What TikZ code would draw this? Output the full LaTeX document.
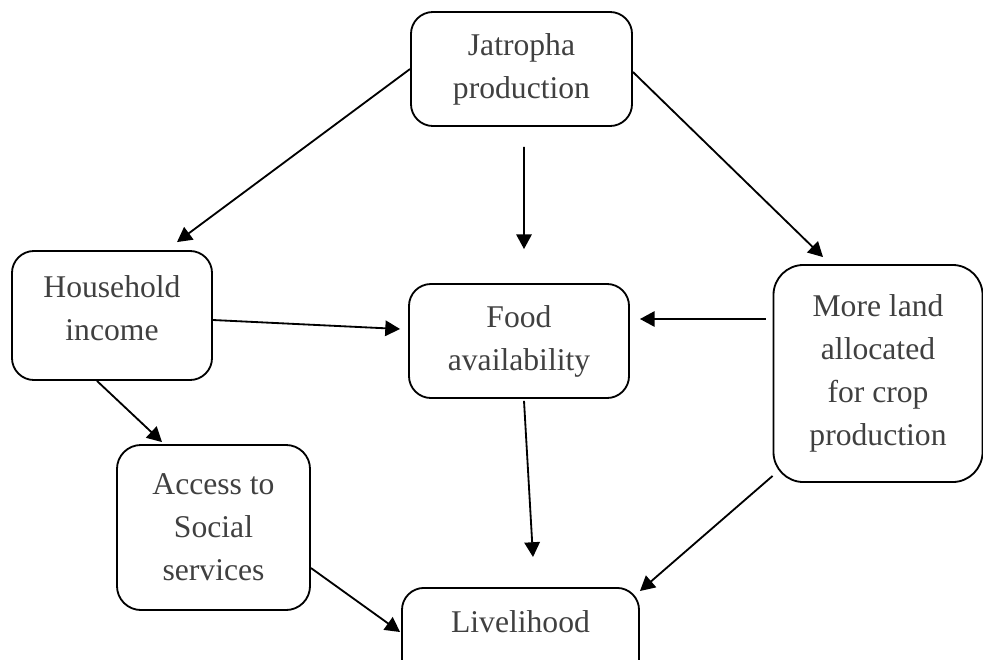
\documentclass[tikz,border=0pt]{standalone}
\usepackage{fontspec}
\setmainfont{Liberation Serif}
\usepackage{tikz}
\usetikzlibrary{calc,arrows.meta}
\definecolor{txtgray}{HTML}{404040}

\begin{document}
\begin{tikzpicture}[x=0.025cm,y=-0.025cm,
  box/.style={draw,line width=1.3pt,rounded corners=0.55cm,align=center,text=txtgray,
    font=\fontsize{22.5pt}{30.6pt}\selectfont,inner sep=0pt},
  arr/.style={line width=1.3pt,-{Triangle[length=10.5pt,width=11pt]}}]
  \useasboundingbox (0,0) rectangle (983,659);
  % boxes
  \node[box,minimum width=5.525cm,minimum height=2.85cm] (jat) at (521.5,69) {Jatropha\\production};
  \node[box,minimum width=5cm,minimum height=3.225cm] (hh) at (112,315.5) {Household\\income\\[-20.6pt]\mbox{}};
  \node[box,minimum width=5.5cm,minimum height=2.85cm] (food) at (519,341) {Food\\availability};
  \node[box,minimum width=5.225cm,minimum height=5.425cm,rounded corners=0.75cm] (land) at (878,373.5) {More land\\allocated\\for crop\\production};
  \node[box,minimum width=4.825cm,minimum height=4.125cm,rounded corners=0.6cm] (acc) at (213.5,527.5) {Access to\\Social\\services};
  \node[box,anchor=north,minimum width=5.925cm,text height=32pt,text depth=43pt] (liv) at (520.5,587) {Livelihood};
  % arrows
  \draw[arr] (jat.west) -- ($(hh.north)+(65,-8)$);
  \draw[arr] ($(jat.south)+(2.5,20)$) -- ($(food.north)+(5,-34)$);
  \draw[arr] ($(jat.east)+(0,3)$) -- ($(land.north)+(-55,-7)$);
  \draw[arr] ($(hh.east)+(0,4.5)$) -- ($(food.west)+(-8,-12)$);
  \draw[arr] ($(land.west)+(-7,-54.5)$) -- ($(food.east)+(10,-22)$);
  \draw[arr] ($(hh.south)+(-15,0)$) -- ($(acc.north)+(-51.5,-2)$);
  \draw[arr] ($(food.south)+(5,2)$) -- ($(liv.north)+(12.5,-30)$);
  \draw[arr] ($(land.south west)+(0,-7)$) -- ($(liv.north east)+(0,4)$);
  \draw[arr] ($(acc.east)+(0,40.5)$) -- ($(liv.north west)+(-1,45)$);
\end{tikzpicture}
\end{document}
